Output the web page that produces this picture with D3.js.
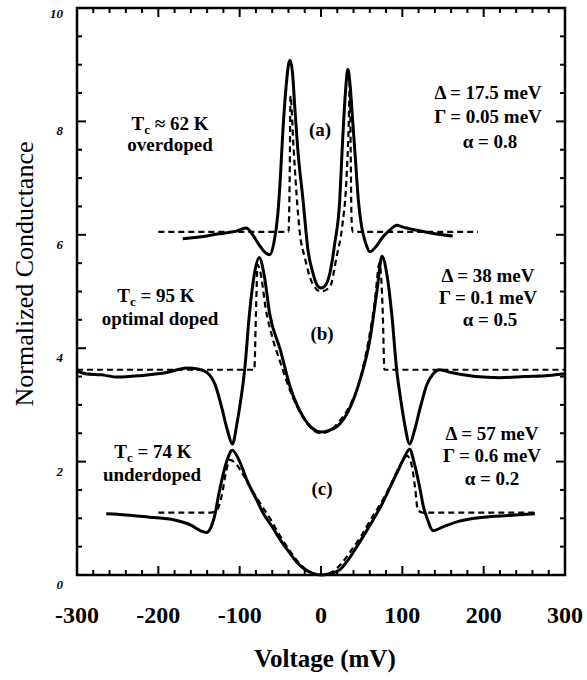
<!DOCTYPE html>
<meta charset="utf-8">
<style>
body { margin: 0; background: #fff; }
text { font-family: "Liberation Serif", "Times New Roman", serif; fill: #000; }
.note { font-size: 19px; font-weight: bold; }
.fit { fill: none; stroke: #000; stroke-width: 2.2; stroke-dasharray: 6,4; }
.data { fill: none; stroke: #000; stroke-width: 3; stroke-linejoin: round; }
</style>
<svg width="587" height="680"></svg>
<script src="https://d3js.org/d3.v7.min.js"></script>
<script>

// measured curves, [voltage mV, normalized conductance]
var dataA = [[-170,5.93],[-150,5.96],[-125,6.02],[-105,6.06],[-92,6.12],[-84,6.0],[-75,5.8],[-68,5.68],[-63,5.65],[-58,5.85],[-53,6.38],[-50,7.0],[-47,7.8],[-43,8.6],[-40,9.0],[-38,9.08],[-35,8.85],[-32,8.2],[-28.5,7.5],[-22,6.6],[-16,5.73],[-10,5.33],[-5,5.12],[0,5.06],[5,5.1],[11,5.33],[17,5.86],[23,6.6],[26,7.5],[30,8.5],[33,8.92],[36,8.6],[39,8.0],[42,7.4],[46,6.6],[50,6.14],[55,5.85],[60,5.7],[68,5.8],[76,5.96],[86,6.1],[93,6.17],[100,6.14],[118,6.08],[140,6.02],[162,5.98]];
var fitA = [[-200,6.05],[-40,6.05],[-38.5,7.0],[-37.5,8.45],[-34,7.6],[-30,6.7],[-26,6.03],[-20,5.6],[-11,5.16],[0,5.0],[11,5.08],[19,5.6],[26,6.14],[31,6.9],[34,7.9],[35.5,8.7],[36.5,7.5],[37.5,6.3],[39,6.05],[193,6.05]];

var dataB = [[-300,3.6],[-290,3.55],[-270,3.53],[-250,3.49],[-220,3.52],[-190,3.57],[-165,3.65],[-150,3.63],[-140,3.57],[-130,3.35],[-122,2.95],[-115,2.55],[-109,2.31],[-103,2.7],[-98,3.15],[-94,3.6],[-88,4.6],[-82,5.3],[-76,5.6],[-70,5.3],[-63,4.6],[-50,3.97],[-38,3.32],[-22,2.79],[-10,2.58],[0,2.52],[10,2.55],[20,2.62],[36,2.96],[48,3.44],[60,4.14],[69,5.03],[75,5.62],[81,5.3],[87,4.6],[93,3.62],[98,3.1],[103,2.65],[109,2.31],[115,2.55],[122,2.95],[130,3.35],[138,3.55],[146,3.62],[160,3.57],[190,3.5],[220,3.48],[250,3.5],[280,3.52],[300,3.55]];
var fitB = [[-300,3.62],[-82,3.62],[-80,4.6],[-78,5.47],[-74,5.3],[-68,4.7],[-60,4.2],[-50,3.75],[-38,3.25],[-22,2.78],[-10,2.56],[0,2.5],[10,2.54],[22,2.7],[36,3.0],[48,3.45],[58,4.1],[66,4.8],[72,5.5],[76,4.6],[78,3.62],[300,3.62]];

var dataC = [[-264,1.08],[-240,1.06],[-211,1.02],[-180,0.97],[-160,0.88],[-148,0.78],[-141,0.75],[-135,0.85],[-130,1.09],[-126,1.4],[-122,1.67],[-116,2.0],[-109,2.2],[-100,2.0],[-91,1.67],[-80,1.35],[-71,1.09],[-60,0.85],[-50,0.62],[-40,0.42],[-30,0.23],[-20,0.1],[-10,0.03],[0,0.0],[10,0.02],[23,0.09],[34,0.28],[44,0.5],[54,0.73],[64,0.97],[75,1.25],[85,1.55],[95,1.85],[101,2.03],[109,2.22],[115,1.95],[122,1.5],[126,1.2],[130,1.02],[138,0.78],[150,0.85],[170,0.95],[200,1.02],[230,1.05],[263,1.08]];
var fitC = [[-200,1.1],[-135,1.1],[-128,1.15],[-122,1.4],[-117,1.8],[-112,2.03],[-104,1.95],[-95,1.75],[-85,1.5],[-75,1.27],[-62,0.98],[-50,0.68],[-38,0.42],[-25,0.18],[-12,0.04],[0,0],[12,0.04],[25,0.2],[38,0.45],[50,0.7],[62,1.0],[75,1.3],[86,1.6],[96,1.9],[106,2.1],[112,1.9],[116,1.5],[119,1.15],[125,1.1],[262,1.1]];

var xTicks = [-300, -200, -100, 0, 100, 200, 300];
var yTicks = [0, 2, 4, 6, 8, 10];

var svg = d3.select("svg");
var box = {l: 77, r: 565, t: 8, b: 575};

var x = d3.scaleLinear().domain([-300, 300]).range([box.l, box.r]);
var y = d3.scaleLinear().domain([0, 10]).range([box.b, box.t]);

var line = d3.line()
    .x(function(d) { return x(d[0]); })
    .y(function(d) { return y(d[1]); })
    .curve(d3.curveMonotoneX);

// frame
svg.append("rect")
    .attr("x", box.l).attr("y", box.t)
    .attr("width", box.r - box.l).attr("height", box.b - box.t)
    .attr("fill", "none").attr("stroke", "#000").attr("stroke-width", 2.5);

// inward ticks on all four sides
var xMinor = d3.range(-300, 301, 20);
var yMinor = d3.range(0, 10.01, 0.5);
var tk = svg.append("g").attr("stroke", "#000").attr("stroke-width", 2);
xMinor.forEach(function(v) {
  var len = (v % 100 === 0) ? 9 : 5;
  tk.append("line").attr("x1", x(v)).attr("x2", x(v)).attr("y1", box.b).attr("y2", box.b - len);
  tk.append("line").attr("x1", x(v)).attr("x2", x(v)).attr("y1", box.t).attr("y2", box.t + len);
});
yMinor.forEach(function(v) {
  var len = (v % 2 === 0) ? 9 : 5;
  tk.append("line").attr("y1", y(v)).attr("y2", y(v)).attr("x1", box.l).attr("x2", box.l + len);
  tk.append("line").attr("y1", y(v)).attr("y2", y(v)).attr("x1", box.r).attr("x2", box.r - len);
});

// tick labels
svg.selectAll(".xl").data(xTicks).enter().append("text")
    .attr("x", function(d) { return x(d); })
    .attr("y", 623)
    .attr("text-anchor", "middle")
    .style("font-size", "24px").style("font-weight", "bold")
    .text(function(d) { return d; });

svg.selectAll(".yl").data(yTicks).enter().append("text")
    .attr("x", 63)
    .attr("y", function(d) { return y(d) + (d === 10 ? 10 : 14); })
    .attr("text-anchor", "end")
    .style("font-size", "13px").style("font-weight", "bold").style("font-style", "italic")
    .text(function(d) { return d; });

// axis titles
svg.append("text")
    .attr("x", 325).attr("y", 667)
    .attr("text-anchor", "middle")
    .style("font-size", "25px").style("font-weight", "bold")
    .text("Voltage (mV)");

svg.append("text")
    .attr("transform", "translate(33,274) rotate(-90)")
    .attr("text-anchor", "middle")
    .style("font-size", "26px")
    .text("Normalized Conductance");

// curves
[fitA, fitB, fitC].forEach(function(s) {
  svg.append("path").datum(s).attr("class", "fit").attr("d", line);
});
[dataA, dataB, dataC].forEach(function(s) {
  svg.append("path").datum(s).attr("class", "data").attr("d", line);
});

// annotations
function tc(cx, cy, rest) {
  var t = svg.append("text").attr("class", "note").attr("x", cx).attr("y", cy).attr("text-anchor", "middle");
  t.append("tspan").text("T");
  t.append("tspan").attr("dy", 4).style("font-size", "13px").text("c");
  t.append("tspan").attr("dy", -4).text(" " + rest);
}
function note(cx, cy, s) {
  svg.append("text").attr("class", "note").attr("x", cx).attr("y", cy).attr("text-anchor", "middle").text(s);
}

tc(170, 130, "\u2248 62 K");
note(170, 151, "overdoped");
tc(156, 302, "= 95 K");
note(160, 325, "optimal doped");
tc(153, 458, "= 74 K");
note(152, 481, "underdoped");

note(488, 99, "\u0394 = 17.5 meV");
note(488, 123, "\u0393 = 0.05 meV");
note(490, 148, "\u03b1 = 0.8");
note(488, 282, "\u0394 = 38 meV");
note(488, 304, "\u0393 = 0.1 meV");
note(490, 326, "\u03b1 = 0.5");
note(492, 440, "\u0394 = 57 meV");
note(492, 462, "\u0393 = 0.6 meV");
note(492, 485, "\u03b1 = 0.2");

note(320, 136, "(a)");
note(322, 340, "(b)");
note(322, 495, "(c)");

</script>
